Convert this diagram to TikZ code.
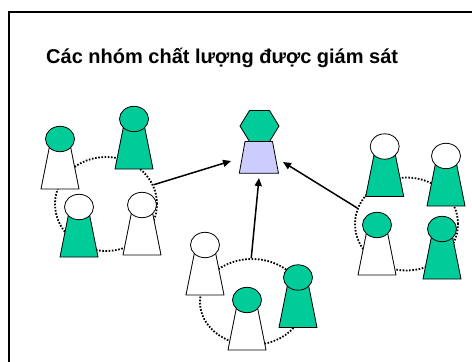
\documentclass[tikz,border=0pt]{standalone}
\usepackage{fontspec}
\setmainfont{Liberation Sans}
\usetikzlibrary{arrows.meta,shapes.geometric}
\definecolor{teal}{HTML}{00CC99}
\definecolor{lav}{HTML}{CCCCFF}
\tikzset{
  outline/.style={draw=black,line width=0.8pt},
  grp/.style={ellipse,draw=black,line width=1.8pt,dash pattern=on 1.6pt off 1.6pt,inner sep=0pt},
  arr/.style={line width=1.5pt,-{Triangle[length=8pt,width=7pt]}},
  pics/pawn/.style 2 args={code={
    \path[outline,fill=#2] (-9,0) -- (9,0) -- (19,50) -- (-19,50) -- cycle;
    \path[outline,fill=#1] (0,0) ellipse [x radius=14.5,y radius=12.7];
  }}
}
\begin{document}
\begin{tikzpicture}[x=1pt,y=-1pt]
\useasboundingbox (0,0) rectangle (472,362);
\clip (0,0) rectangle (472,362);
\fill[white] (0,0) rectangle (472,362);
% slide frame
\draw[line width=2pt] (9,380) -- (9,12) -- (490,12);
% title
\node[anchor=base west,inner sep=0pt,font=\bfseries\fontsize{20}{24}\selectfont] (title) at (46,63.5) {Các nhóm chất lượng được giám sát};
% dotted group rings
\node[grp,minimum width=102,minimum height=94] (gL) at (106,204) {};
\node[grp,minimum width=104,minimum height=86] (gB) at (252,302) {};
\node[grp,minimum width=103,minimum height=93] (gR) at (406.5,224) {};
% left group
\pic at (60,139) {pawn={teal}{white}};
\pic at (134,119) {pawn={teal}{teal}};
\pic at (79,207) {pawn={white}{teal}};
\pic at (142,205) {pawn={white}{white}};
% bottom group
\pic at (205,245) {pawn={white}{white}};
\pic at (247,300) {pawn={teal}{white}};
\pic at (298,277.5) {pawn={teal}{teal}};
% right group
\pic at (384.7,146.5) {pawn={white}{teal}};
\pic at (446,156) {pawn={white}{teal}};
\pic at (377,225) {pawn={teal}{white}};
\pic at (442,229) {pawn={teal}{teal}};
% supervisor
\path[outline,fill=lav] (245,141.5) -- (272.5,141.5) -- (278.5,173.3) -- (239.3,173.3) -- cycle;
\path[outline,fill=teal] (240,126) -- (249.5,110.5) -- (269.5,110.5) -- (279,126) -- (269.5,141.5) -- (249.5,141.5) -- cycle;
\coordinate (tL) at (231,161);
\coordinate (tB) at (259,178);
\coordinate (tR) at (283,162);
% reporting arrows
\draw[arr] (gL.22) -- (tL);
\draw[arr] (gB.91) -- (tB);
\draw[arr] (gR.162) -- (tR);
\end{tikzpicture}
\end{document}
